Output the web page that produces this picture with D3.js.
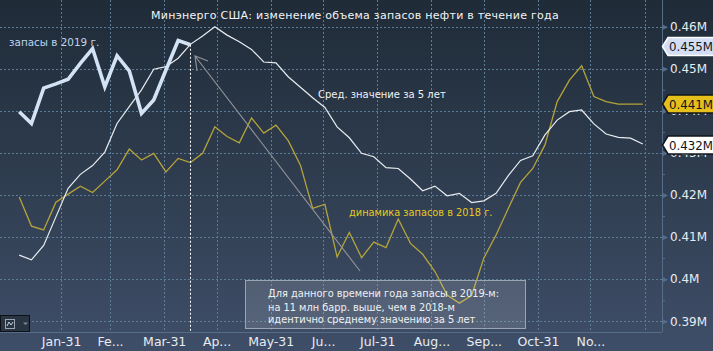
<!DOCTYPE html>
<html>
<head>
<meta charset="utf-8">
<script src="https://cdnjs.cloudflare.com/ajax/libs/d3/7.8.5/d3.min.js"></script>
<style>
body { margin: 0; background: #1c2733; }
svg { display: block; }
text { font-family: "DejaVu Sans", sans-serif; }
</style>
</head>
<body>
<div id="chart-area"></div>
<script>
var width = 713, height = 351;
var plotRight = 662, plotBottom = 332;

// Values in millions, one per week
var stocks2019 = [0.4398, 0.4370, 0.4454, 0.4464, 0.4475, 0.4513, 0.4548, 0.4457, 0.4531, 0.4495, 0.4394, 0.4426, 0.4497, 0.4567, 0.4557];
var avg5y = [0.4057, 0.4046, 0.4080, 0.4148, 0.4216, 0.4249, 0.4270, 0.4302, 0.4370, 0.4410, 0.4450, 0.4499, 0.4505, 0.4525, 0.4558, 0.4578,
    0.4600, 0.4580, 0.4564, 0.4546, 0.4516, 0.4514, 0.4481, 0.4456, 0.4431, 0.4408, 0.4362, 0.4336, 0.4299, 0.4291, 0.4265, 0.4263,
    0.4238, 0.4210, 0.4221, 0.4198, 0.4204, 0.4182, 0.4186, 0.4204, 0.4246, 0.4282, 0.4293, 0.4343, 0.4378, 0.4398, 0.4402, 0.4369,
    0.4345, 0.4337, 0.4335, 0.4321];
var stocks2018 = [0.4195, 0.4126, 0.4117, 0.4183, 0.4202, 0.4221, 0.4206, 0.4233, 0.4260, 0.4309, 0.4283, 0.4299, 0.4255, 0.4287, 0.4277, 0.4299,
    0.4362, 0.4339, 0.4324, 0.4383, 0.4347, 0.4366, 0.4329, 0.4271, 0.4168, 0.4178, 0.4053, 0.4111, 0.4051, 0.4088, 0.4075, 0.4143,
    0.4085, 0.4059, 0.4018, 0.3962, 0.3943, 0.3961, 0.4050, 0.4105, 0.4168, 0.4230, 0.4263, 0.4319, 0.4422, 0.4473, 0.4507, 0.4434,
    0.4422, 0.4416, 0.4416, 0.4416];

var monthEnds = ["2019-01-31", "2019-02-28", "2019-03-31", "2019-04-30", "2019-05-31", "2019-06-30", "2019-07-31", "2019-08-31", "2019-09-30", "2019-10-31", "2019-11-30", "2019-12-31"];
var monthLabels = ["Jan-31", "Fe...", "Mar-31", "Ap...", "May-31", "Ju...", "Jul-31", "Aug...", "Sep...", "Oct-31", "No...", ""];
var majorTicks = [0.39, 0.40, 0.41, 0.42, 0.43, 0.44, 0.45, 0.46];
var minorTicks = [0.395, 0.405, 0.415, 0.425, 0.435, 0.445, 0.455];
var noteLines = ["Для данного времени года запасы в 2019-м:", "на 11 млн барр. выше, чем в 2018-м", "идентично среднему значению за 5 лет"];

var parseDay = d3.utcParse("%Y-%m-%d");
var weeks = d3.utcDay.range(Date.UTC(2019, 0, 7), Date.UTC(2020, 0, 6), 7);

var svg = d3.select("#chart-area")
    .append("svg")
    .attr("width", width)
    .attr("height", height);

var grad = svg.append("defs").append("linearGradient")
    .attr("id", "bg").attr("x1", 0).attr("y1", 0).attr("x2", 0).attr("y2", 1);
grad.append("stop").attr("offset", "0%").attr("stop-color", "#1f2b37");
grad.append("stop").attr("offset", "100%").attr("stop-color", "#3f4e68");
svg.append("rect").attr("width", width).attr("height", height).attr("fill", "url(#bg)");

// Scales
var x = d3.scaleUtc().domain([Date.UTC(2018, 11, 27), Date.UTC(2020, 0, 10)]).range([0, plotRight]);
var y = d3.scaleLinear().domain([0.39, 0.46]).range([321.2, 26.7]);

// Grid
var grid = svg.append("g").attr("fill", "none").attr("stroke", "#5d7c98").attr("stroke-dasharray", "2,2");
grid.selectAll("line.h").data(majorTicks).enter().append("line")
    .attr("class", "h")
    .attr("x1", 0).attr("x2", plotRight)
    .attr("y1", d => Math.round(y(d)) + 0.5).attr("y2", d => Math.round(y(d)) + 0.5);
grid.selectAll("line.v").data(monthEnds).enter().append("line")
    .attr("class", "v")
    .attr("x1", d => Math.round(x(parseDay(d))) + 0.5).attr("x2", d => Math.round(x(parseDay(d))) + 0.5)
    .attr("y1", 0).attr("y2", plotBottom);

// Axes
var xAxis = d3.axisBottom(x)
    .tickValues(monthEnds.map(parseDay))
    .tickSize(0)
    .tickPadding(5)
    .tickFormat((d, i) => monthLabels[i]);
var xG = svg.append("g").attr("transform", `translate(0,${plotBottom})`).call(xAxis);
xG.select(".domain").attr("stroke", "#566d87").attr("d", `M0,0.5H${plotRight}`);
xG.selectAll("text").attr("fill", "#e6ecf2").attr("font-size", 12.5).style("font-family", "DejaVu Sans");

var yAxis = d3.axisRight(y)
    .tickValues(majorTicks)
    .tickSize(5)
    .tickPadding(3)
    .tickFormat(d => d + "M");
var yG = svg.append("g").attr("transform", `translate(${plotRight},0)`).call(yAxis);
yG.select(".domain").attr("stroke", "#566d87").attr("d", `M0.5,0V${plotBottom}`);
yG.selectAll("line").attr("stroke", "#6d8aa8");
yG.selectAll("text").attr("fill", "#e6ecf2").attr("font-size", 12).style("font-family", "DejaVu Sans");
yG.selectAll(".tick").append("path").attr("d", "M0,-3L6,0L0,3Z").attr("fill", "#566d87");

var yMinor = d3.axisRight(y).tickValues(minorTicks).tickSize(3).tickFormat("");
var yMinorG = svg.append("g").attr("transform", `translate(${plotRight},0)`).call(yMinor);
yMinorG.select(".domain").remove();
yMinorG.selectAll("line").attr("stroke", "#566d87");

// Series
var line = d3.line().x((d, i) => x(weeks[i])).y(d => y(d));
svg.append("path").datum(stocks2018).attr("fill", "none").attr("stroke", "#b5a43a").attr("stroke-width", 1.3).attr("d", line);
svg.append("path").datum(avg5y).attr("fill", "none").attr("stroke", "#e8ecf0").attr("stroke-width", 1.2).attr("d", line);
svg.append("path").datum(stocks2019).attr("fill", "none").attr("stroke", "#d3e2f4").attr("stroke-width", 3.6).attr("d", line);

// Marker for the current week
var lastX = x(weeks[stocks2019.length - 1]);
svg.append("line")
    .attr("x1", Math.round(lastX) + 0.5).attr("x2", Math.round(lastX) + 0.5)
    .attr("y1", y(stocks2019[14])).attr("y2", plotBottom)
    .attr("stroke", "#fff").attr("stroke-dasharray", "2,2");

// Arrow
svg.append("path")
    .attr("d", "M360,271L195,56M208,61L195,56L197,71")
    .attr("fill", "none").attr("stroke", "#8d9094").attr("stroke-width", 1.2);

// Annotations
svg.append("text").attr("x", 151).attr("y", 19).attr("fill", "#f2f4f6").attr("font-size", 11).attr("letter-spacing", 0.27).text("Минэнерго США: изменение объема запасов нефти в течение года");
svg.append("text").attr("x", 9).attr("y", 46).attr("fill", "#bcd6ee").attr("font-size", 10.4).text("запасы в 2019 г.");
svg.append("text").attr("x", 318).attr("y", 98).attr("fill", "#f0f2f4").attr("font-size", 10).text("Сред. значение за 5 лет");
svg.append("text").attr("x", 349).attr("y", 216).attr("fill", "#e6c91f").attr("font-size", 9.8).text("динамика запасов в 2018 г.");

// Note box
svg.append("rect")
    .attr("x", 245.5).attr("y", 280.5).attr("width", 280).attr("height", 48)
    .attr("fill", "#fff").attr("fill-opacity", 0.13).attr("stroke", "#9aa5b3");
svg.selectAll("text.note").data(noteLines).enter().append("text")
    .attr("class", "note")
    .attr("x", 268)
    .attr("y", (d, i) => [297, 311, 323][i])
    .attr("fill", "#eef1f4").attr("font-size", 9.8)
    .text(d => d);

// Last value tags
var tags = [
    { value: stocks2019[14], label: "0.455M", fill: "#d3def5", stroke: "#fff", cy: 46.5 },
    { value: stocks2018[51], label: "0.441M", fill: "#e5bf1c", stroke: "#11161c", cy: 104 },
    { value: avg5y[51], label: "0.432M", fill: "#fff", stroke: "#11161c", cy: 145 }
];
var tagG = svg.selectAll("g.tag").data(tags).enter().append("g")
    .attr("class", "tag")
    .attr("transform", d => `translate(${plotRight},${d.cy})`);
tagG.append("path")
    .attr("d", "M0.5,0L6,-9H713V9H6Z")
    .attr("fill", d => d.fill)
    .attr("stroke", d => d.stroke)
    .attr("stroke-width", 1.5);
tagG.append("text")
    .attr("x", 7).attr("y", 4.5)
    .attr("fill", "#10151b").attr("font-size", 11.8)
    .text(d => d.label);

// Chart type button
var btn = svg.append("g");
btn.append("rect").attr("x", 0.5).attr("y", 315.5).attr("width", 29).attr("height", 16).attr("fill", "#2a3543").attr("stroke", "#0e1217");
btn.append("rect").attr("x", 5.5).attr("y", 319.5).attr("width", 9).attr("height", 9).attr("fill", "none").attr("stroke", "#9aa5b3");
btn.append("path").attr("d", "M7,326L9,322L11,325L13,322").attr("fill", "none").attr("stroke", "#c8d0d8");
btn.append("path").attr("d", "M23,322.5H28L25.5,325Z").attr("fill", "#7d8a98");
</script>
</body>
</html>
